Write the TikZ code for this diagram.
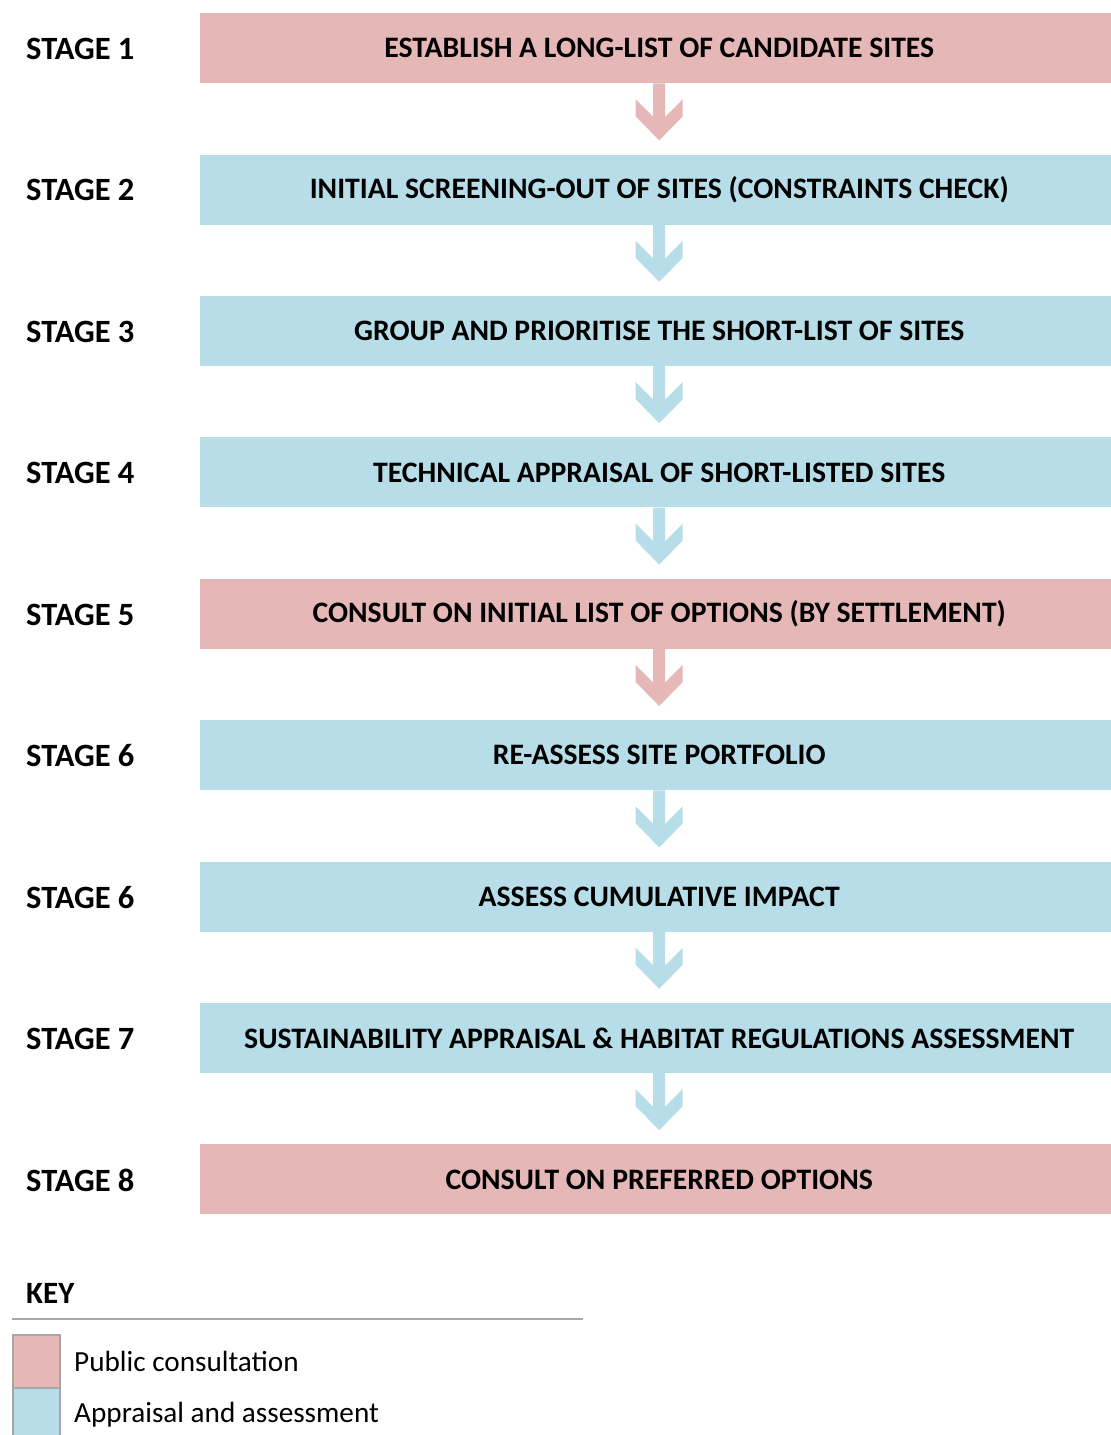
\documentclass[tikz,border=0pt]{standalone}
\usepackage{fontspec}
\setmainfont{Carlito}
\usetikzlibrary{calc}
\definecolor{pinkc}{HTML}{E5B8B7}
\definecolor{bluec}{HTML}{B6DDE8}
\definecolor{keygray}{HTML}{A6A6A6}
\begin{document}
\begin{tikzpicture}[x=1pt,y=-1pt,
  stagebox/.style={minimum width=918pt,minimum height=70pt,inner sep=0pt,anchor=north west,font=\fontsize{29.7}{32}\selectfont\bfseries},
  pinkbox/.style={stagebox,fill=pinkc},
  bluebox/.style={stagebox,fill=bluec},
  stagelabel/.style={anchor=west,inner sep=0pt,font=\fontsize{32.5}{35}\selectfont\bfseries},
  keytext/.style={anchor=west,inner sep=0pt,font=\fontsize{29.2}{32}\selectfont},
  keysq/.style={draw=keygray,line width=1.5pt,inner sep=0pt,minimum width=47pt,minimum height=53pt,anchor=north west}]
\useasboundingbox (0,0) rectangle (1111,1435);
\def\chev#1#2{% color, from node
  \fill[#1] ($(#2.south)+(-6,0)$) -- ($(#2.south)+(6,0)$) -- ++(0,33.5) -- ++(17.5,-17.5) -- ++(0,17) -- ++(-23.5,24) -- ++(-23.5,-24) -- ++(0,-17) -- ++(17.5,17.5) -- cycle;}
\foreach \i/\t/\c/\s in {1/ESTABLISH A LONG-LIST OF CANDIDATE SITES/pinkbox/STAGE 1,
  2/INITIAL SCREENING-OUT OF SITES (CONSTRAINTS CHECK)/bluebox/STAGE 2,
  3/GROUP AND PRIORITISE THE SHORT-LIST OF SITES/bluebox/STAGE 3,
  4/TECHNICAL APPRAISAL OF SHORT-LISTED SITES/bluebox/STAGE 4,
  5/CONSULT ON INITIAL LIST OF OPTIONS (BY SETTLEMENT)/pinkbox/STAGE 5,
  6/RE-ASSESS SITE PORTFOLIO/bluebox/STAGE 6,
  7/ASSESS CUMULATIVE IMPACT/bluebox/STAGE 6,
  8/SUSTAINABILITY APPRAISAL \& HABITAT REGULATIONS ASSESSMENT/bluebox/STAGE 7,
  9/CONSULT ON PREFERRED OPTIONS/pinkbox/STAGE 8}{
  \node[\c] (b\i) at (200,{13+141.4*(\i-1)}) {\raisebox{-1pt}{\t}};
  \node[stagelabel] (s\i) at (26,{49+141.4*(\i-1)}) {\s};
}
\chev{pinkc}{b1}
\chev{bluec}{b2}
\chev{bluec}{b3}
\chev{bluec}{b4}
\chev{pinkc}{b5}
\chev{bluec}{b6}
\chev{bluec}{b7}
\chev{bluec}{b8}
% key
\node[anchor=west,inner sep=0pt,font=\fontsize{31}{34}\selectfont\bfseries] (key) at (26,1293) {KEY};
\coordinate (kl) at (12,1319);
\coordinate (kr) at (583,1319);
\draw[keygray,line width=1.5pt] (kl) -- (kr);
\node[keysq,fill=pinkc] (kp) at (12,1334) {};
\node[keysq,fill=bluec] (ka) at (12,1387) {};
\node[keytext] (kpt) at (74,1361) {Public consultation};
\node[keytext] (kat) at (74,1415) {Appraisal and assessment};
\end{tikzpicture}
\end{document}
